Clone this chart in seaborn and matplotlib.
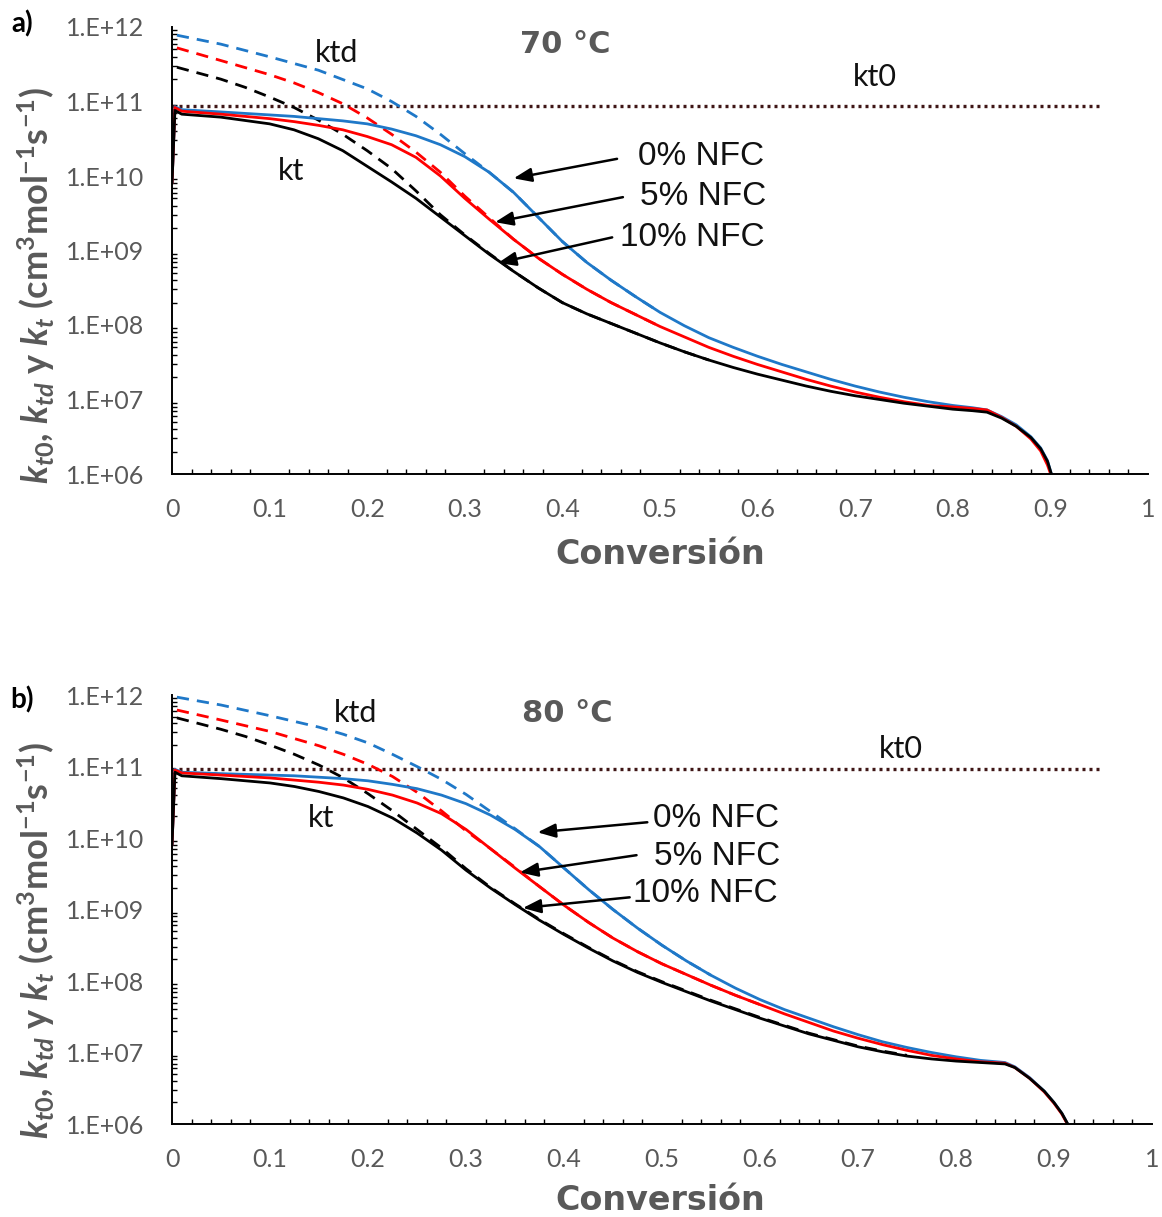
import numpy as np
import matplotlib
matplotlib.use("Agg")
import matplotlib.pyplot as plt
from matplotlib.ticker import FixedLocator, MultipleLocator, FuncFormatter, LogLocator, NullFormatter
import seaborn as sns

sns.set_theme(style="white")
plt.rcParams["font.family"] = ["Lato", "DejaVu Sans"]
plt.rcParams["mathtext.fontset"] = "custom"
plt.rcParams["mathtext.it"] = "Lato:italic:bold"
plt.rcParams["mathtext.rm"] = "Lato:bold"
plt.rcParams["mathtext.bf"] = "Lato:bold"

# Rate constants are stored as log10 values (cm3 mol-1 s-1)

# ---------------- 70 °C ----------------
conv_kt_70 = [0.0, 0.003, 0.01, 0.05, 0.1, 0.125, 0.15, 0.175, 0.2, 0.225, 0.25, 0.275,
              0.3, 0.325, 0.35, 0.375, 0.4, 0.425, 0.45, 0.475, 0.5, 0.525, 0.55, 0.575,
              0.6, 0.625, 0.65, 0.675, 0.7, 0.725, 0.75, 0.775, 0.8, 0.82, 0.835, 0.85,
              0.865, 0.88, 0.89, 0.897, 0.901]
log_kt_0nfc_70 = [9.9, 10.93, 10.89, 10.86, 10.82, 10.80, 10.77, 10.74, 10.70, 10.63, 10.54,
                  10.42, 10.26, 10.05, 9.78, 9.45, 9.12, 8.84, 8.60, 8.38, 8.17, 7.99, 7.83,
                  7.70, 7.58, 7.47, 7.37, 7.27, 7.18, 7.10, 7.03, 6.97, 6.92, 6.89, 6.86,
                  6.77, 6.66, 6.50, 6.35, 6.18, 6.0]
log_kt_5nfc_70 = [9.9, 10.92, 10.87, 10.83, 10.77, 10.73, 10.68, 10.62, 10.53, 10.42, 10.25,
                  10.00, 9.70, 9.42, 9.15, 8.90, 8.68, 8.48, 8.30, 8.14, 7.98, 7.84, 7.70,
                  7.58, 7.47, 7.37, 7.27, 7.18, 7.10, 7.03, 6.97, 6.92, 6.90, 6.88, 6.86,
                  6.76, 6.64, 6.47, 6.31, 6.12, 5.97]
log_kt_10nfc_70 = [9.9, 10.88, 10.83, 10.79, 10.70, 10.62, 10.50, 10.34, 10.13, 9.92, 9.70,
                   9.45, 9.20, 8.95, 8.72, 8.50, 8.30, 8.15, 8.02, 7.89, 7.76, 7.64, 7.53,
                   7.43, 7.34, 7.26, 7.18, 7.11, 7.05, 7.00, 6.95, 6.91, 6.87, 6.85, 6.83,
                   6.75, 6.64, 6.49, 6.34, 6.17, 6.0]

conv_ktd_0nfc_70 = [0.005, 0.05, 0.1, 0.15, 0.2, 0.225, 0.25, 0.275, 0.3, 0.325, 0.35,
                    0.375, 0.4, 0.425, 0.45, 0.475, 0.5]
log_ktd_0nfc_70 = [11.89, 11.77, 11.60, 11.42, 11.17, 11.00, 10.80, 10.56, 10.30, 10.05,
                   9.78, 9.45, 9.12, 8.84, 8.60, 8.38, 8.17]
conv_ktd_5nfc_70 = [0.005, 0.05, 0.1, 0.125, 0.15, 0.175, 0.2, 0.225, 0.25, 0.275, 0.3,
                    0.325, 0.35, 0.375, 0.4, 0.425, 0.45, 0.475, 0.5]
log_ktd_5nfc_70 = [11.72, 11.55, 11.36, 11.25, 11.12, 10.97, 10.78, 10.56, 10.32, 10.05,
                   9.73, 9.44, 9.15, 8.90, 8.68, 8.48, 8.30, 8.14, 7.98]
conv_ktd_10nfc_70 = [0.005, 0.05, 0.075, 0.1, 0.125, 0.15, 0.175, 0.2, 0.225, 0.25, 0.275,
                     0.3, 0.325, 0.35, 0.375, 0.4, 0.425, 0.45, 0.475, 0.5, 0.525, 0.55]
log_ktd_10nfc_70 = [11.46, 11.30, 11.19, 11.06, 10.92, 10.75, 10.56, 10.34, 10.10, 9.80,
                    9.48, 9.21, 8.96, 8.72, 8.50, 8.30, 8.15, 8.02, 7.89, 7.76, 7.64, 7.53]
log_kt0_70 = 10.945

# ---------------- 80 °C ----------------
conv_kt_80 = [0.0, 0.003, 0.01, 0.05, 0.1, 0.125, 0.15, 0.175, 0.2, 0.225, 0.25, 0.275,
              0.3, 0.325, 0.35, 0.375, 0.4, 0.425, 0.45, 0.475, 0.5, 0.525, 0.55, 0.575,
              0.6, 0.625, 0.65, 0.675, 0.7, 0.725, 0.75, 0.775, 0.8, 0.825, 0.85, 0.86,
              0.875, 0.89, 0.9, 0.908, 0.914]
log_kt_0nfc_80 = [9.9, 10.96, 10.92, 10.90, 10.88, 10.87, 10.85, 10.83, 10.80, 10.75, 10.69,
                  10.60, 10.48, 10.32, 10.12, 9.88, 9.58, 9.28, 9.00, 8.74, 8.50, 8.28, 8.08,
                  7.90, 7.74, 7.60, 7.48, 7.36, 7.25, 7.15, 7.07, 7.00, 6.94, 6.89, 6.86,
                  6.80, 6.65, 6.46, 6.30, 6.15, 6.0]
log_kt_5nfc_80 = [9.9, 10.95, 10.91, 10.88, 10.84, 10.81, 10.78, 10.74, 10.68, 10.60, 10.49,
                  10.34, 10.12, 9.85, 9.58, 9.32, 9.06, 8.82, 8.60, 8.41, 8.24, 8.09, 7.94,
                  7.80, 7.67, 7.54, 7.42, 7.30, 7.20, 7.11, 7.03, 6.96, 6.91, 6.87, 6.85,
                  6.79, 6.64, 6.45, 6.29, 6.14, 5.99]
log_kt_10nfc_80 = [9.9, 10.92, 10.87, 10.83, 10.77, 10.72, 10.65, 10.56, 10.44, 10.28, 10.07,
                   9.83, 9.55, 9.30, 9.07, 8.85, 8.65, 8.46, 8.28, 8.12, 7.98, 7.85, 7.72,
                   7.60, 7.48, 7.37, 7.26, 7.17, 7.08, 7.01, 6.95, 6.91, 6.88, 6.86, 6.84,
                   6.79, 6.64, 6.46, 6.30, 6.15, 6.0]

conv_ktd_0nfc_80 = [0.005, 0.05, 0.1, 0.15, 0.175, 0.2, 0.225, 0.25, 0.275, 0.3, 0.325,
                    0.35, 0.375, 0.4, 0.425, 0.45, 0.475, 0.5, 0.525, 0.55]
log_ktd_0nfc_80 = [11.97, 11.86, 11.71, 11.55, 11.45, 11.33, 11.17, 11.00, 10.82, 10.61,
                   10.37, 10.13, 9.88, 9.58, 9.28, 9.00, 8.74, 8.50, 8.28, 8.08]
conv_ktd_5nfc_80 = [0.005, 0.05, 0.1, 0.15, 0.175, 0.2, 0.225, 0.25, 0.275, 0.3, 0.325,
                    0.35, 0.375, 0.4, 0.425, 0.45, 0.475, 0.5, 0.525, 0.55, 0.575, 0.6]
log_ktd_5nfc_80 = [11.79, 11.65, 11.49, 11.29, 11.17, 11.03, 10.86, 10.64, 10.38, 10.10,
                   9.85, 9.59, 9.32, 9.06, 8.82, 8.60, 8.41, 8.24, 8.09, 7.94, 7.80, 7.67]
conv_ktd_10nfc_80 = [0.005, 0.05, 0.075, 0.1, 0.125, 0.15, 0.175, 0.2, 0.225, 0.25, 0.275,
                     0.3, 0.325, 0.35, 0.375, 0.4, 0.425, 0.45, 0.475, 0.5, 0.525, 0.55,
                     0.575, 0.6, 0.625, 0.65, 0.675, 0.7, 0.725, 0.75]
log_ktd_10nfc_80 = [11.68, 11.52, 11.42, 11.30, 11.17, 11.02, 10.84, 10.62, 10.38, 10.12,
                    9.86, 9.57, 9.31, 9.08, 8.86, 8.66, 8.47, 8.29, 8.13, 7.99, 7.86, 7.73,
                    7.61, 7.49, 7.38, 7.27, 7.18, 7.09, 7.02, 6.96]
log_kt0_80 = 10.965

nfc_labels = ["0% NFC", "5% NFC", "10% NFC"]
colors = ["#1f78c8", "#ff0000", "#000000"]
x_ticks = [0, 0.1, 0.2, 0.3, 0.4, 0.5, 0.6, 0.7, 0.8, 0.9, 1]
x_tick_labels = ["0", "0.1", "0.2", "0.3", "0.4", "0.5", "0.6", "0.7", "0.8", "0.9", "1"]
y_ticks = [1e6, 1e7, 1e8, 1e9, 1e10, 1e11, 1e12]


def from_log(values):
    return np.power(10.0, np.asarray(values, dtype=float))


GRAY = "#595959"
W, H = 1162, 1217
fig = plt.figure(figsize=(W / 100, H / 100), dpi=100)

panels = [
    dict(rect=[172 / W, 1 - 474 / H, (1148 - 172) / W, (474 - 27) / H],
         conv_kt=conv_kt_70, kt=[log_kt_0nfc_70, log_kt_5nfc_70, log_kt_10nfc_70],
         ktd=[(conv_ktd_0nfc_70, log_ktd_0nfc_70), (conv_ktd_5nfc_70, log_ktd_5nfc_70),
              (conv_ktd_10nfc_70, log_ktd_10nfc_70)],
         kt0=log_kt0_70, temp="70 °C", letter="a)", letter_y=24,
         arrows=[((0.456, 1.7e10), (0.350, 9.3e9)),
                 ((0.462, 5.2e9), (0.331, 2.4e9)),
                 ((0.451, 1.5e9), (0.334, 6.8e8))],
         texts=[(0.477, 1.8e10), (0.480, 5.25e9), (0.459, 1.5e9)],
         ktd_pos=(0.169, 4.5e11), kt0_pos=(0.720, 2.1e11), kt_pos=(0.122, 1.18e10),
         temp_pos=(0.403, 5.8e11), ylabel_y=285, xlabel_y=555),
    dict(rect=[172 / W, 1 - 1124 / H, (1152 - 172) / W, (1124 - 695) / H],
         conv_kt=conv_kt_80, kt=[log_kt_0nfc_80, log_kt_5nfc_80, log_kt_10nfc_80],
         ktd=[(conv_ktd_0nfc_80, log_ktd_0nfc_80), (conv_ktd_5nfc_80, log_ktd_5nfc_80),
              (conv_ktd_10nfc_80, log_ktd_10nfc_80)],
         kt0=log_kt0_80, temp="80 °C", letter="b)", letter_y=700,
         arrows=[((0.485, 1.66e10), (0.373, 1.2e10)),
                 ((0.474, 5.75e9), (0.355, 3.3e9)),
                 ((0.467, 1.48e9), (0.358, 1.05e9))],
         texts=[(0.491, 1.86e10), (0.492, 5.6e9), (0.470, 1.66e9)],
         ktd_pos=(0.187, 5.6e11), kt0_pos=(0.744, 1.74e11), kt_pos=(0.152, 1.9e10),
         temp_pos=(0.403, 5.6e11), ylabel_y=940, xlabel_y=1200),
]

for p in panels:
    ax = fig.add_axes(p["rect"])
    ax.set_facecolor("white")

    # kt0: constant, drawn dotted
    sns.lineplot(x=[0.0, 0.95], y=from_log([p["kt0"], p["kt0"]]), ax=ax, color="#3f1616",
                 linewidth=2.4, linestyle=(0, (0.9, 1.2)))
    # ktd: dashed
    for (cx, cy), c in zip(p["ktd"], colors):
        sns.lineplot(x=cx, y=from_log(cy), ax=ax, color=c, linewidth=2.0,
                     linestyle=(0, (4.4, 2.9)), sort=False)
    # kt: solid
    for cy, c in zip(p["kt"], colors):
        sns.lineplot(x=p["conv_kt"], y=from_log(cy), ax=ax, color=c, linewidth=2.0,
                     sort=False)

    ax.set_yscale("log")
    ax.set_xlim(0, 1)
    ax.set_ylim(1e6, 1e12)
    ax.xaxis.set_major_locator(FixedLocator(x_ticks))
    ax.set_xticklabels(x_tick_labels)
    ax.xaxis.set_minor_locator(MultipleLocator(0.02))
    ax.yaxis.set_major_locator(FixedLocator(y_ticks))
    ax.yaxis.set_major_formatter(FuncFormatter(lambda v, _: f"1.E+{int(round(np.log10(v))):02d}"))
    ax.yaxis.set_minor_locator(LogLocator(base=10, subs=np.arange(2, 10)))
    ax.yaxis.set_minor_formatter(NullFormatter())

    for side in ["top", "right"]:
        ax.spines[side].set_visible(False)
    for side in ["left", "bottom"]:
        ax.spines[side].set_color("black")
        ax.spines[side].set_linewidth(1.4)

    ax.tick_params(axis="both", which="major", direction="in", length=6, width=1.2,
                   color="black", labelcolor=GRAY, labelsize=18)
    ax.tick_params(axis="both", which="minor", direction="in", length=3.5, width=1.0,
                   color="black")
    ax.tick_params(axis="x", which="major", pad=17)
    ax.tick_params(axis="y", which="major", pad=20)
    ax.tick_params(axis="y", which="minor", left=True)
    ax.tick_params(axis="x", which="minor", bottom=True)
    ax.set_xlabel("")
    ax.set_ylabel("")

    for ((tx, ty), (hx, hy)) in p["arrows"]:
        ax.annotate("", xy=(hx, hy), xytext=(tx, ty),
                    arrowprops=dict(arrowstyle="-|>,head_length=0.9,head_width=0.35",
                                    color="black", lw=1.8, shrinkA=0, shrinkB=0))
    for (tx, ty), lab in zip(p["texts"], nfc_labels):
        ax.text(tx, ty, lab, fontsize=24, family=["Liberation Sans"], color="#111111",
                ha="left", va="center")

    ax.text(*p["ktd_pos"], "ktd", fontsize=22, color="#111111", ha="center", va="center")
    ax.text(*p["kt0_pos"], "kt0", fontsize=22, color="#111111", ha="center", va="center")
    ax.text(*p["kt_pos"], "kt", fontsize=22, color="#111111", ha="center", va="center")
    ax.text(*p["temp_pos"], p["temp"], fontsize=22, fontweight="bold", color=GRAY,
            family=["DejaVu Sans"], ha="center", va="center")

    fig.text(22 / W, 1 - p["letter_y"] / H, p["letter"], fontsize=20, fontweight="bold",
             color="black", ha="center", va="center")
    fig.text(36 / W, 1 - p["ylabel_y"] / H,
             r"$k_{t0}$, $k_{td}$ y $k_{t}$ (cm$^3$mol$^{-1}$s$^{-1}$)",
             rotation=90, fontsize=26, fontweight="bold", color=GRAY,
             ha="center", va="center")
    fig.text(660 / W, 1 - p["xlabel_y"] / H, "Conversión", fontsize=24,
             fontweight="bold", color=GRAY, family=["DejaVu Sans"],
             ha="center", va="center")

fig.savefig("out.png", dpi=100, facecolor="white")
